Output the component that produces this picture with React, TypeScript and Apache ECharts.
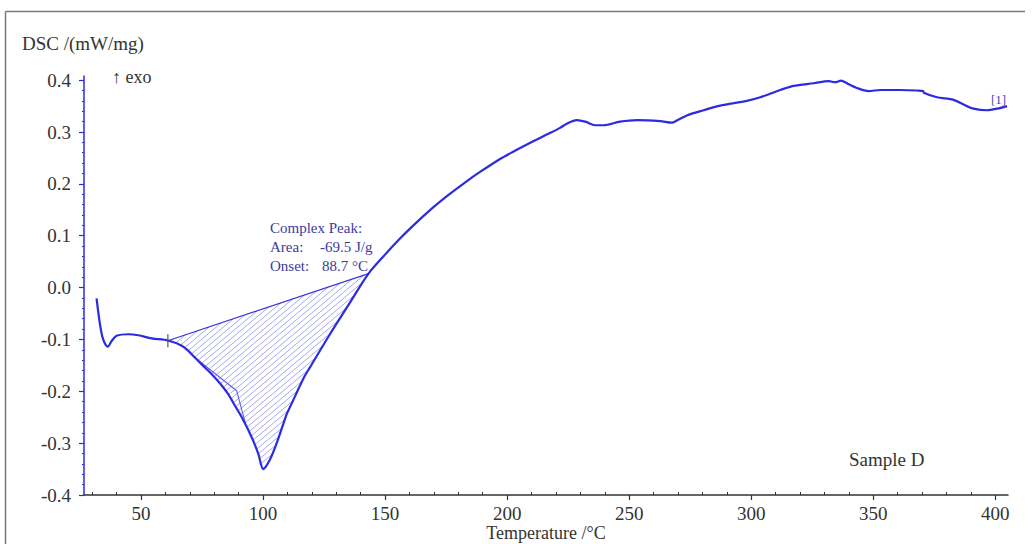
import React, { useEffect, useRef } from "react";
import * as echarts from "echarts";

// Temperature (°C) and DSC signal (mW/mg)
const curveT = [
  31.8, 33.2, 34.5, 36.4, 38.0, 40.0, 44.8, 48.9, 54.4, 61.0, 66.7, 69.4, 72.1, 75.5, 79.0, 82.4, 85.8, 88.5,
  91.3, 95.4, 98.1, 100.1, 102.9, 105.6, 109.7, 111.0, 116.8, 119.2, 127.4, 135.6, 143.2, 149.3, 155.8,
  161.6, 169.8, 175.2, 183.4, 188.9, 197.1, 202.5, 210.7, 216.2, 221.7, 224.4, 228.5, 232.0, 236.1, 239.5,
  246.3, 253.2, 262.7, 267.5, 269.5, 273.6, 280.5, 287.3, 298.2, 303.7, 311.9, 317.3, 325.6, 331.8, 334.4,
  336.8, 339.2, 343.3, 348.1, 352.9, 361.1, 367.9, 370.4, 370.9, 376.1, 382.9, 387.0, 391.1, 396.6, 400.7, 404.8,
];
const curveV = [
  -0.021, -0.071, -0.1, -0.114, -0.103, -0.093, -0.09, -0.092, -0.098, -0.102, -0.112, -0.122, -0.135, -0.151,
  -0.167, -0.185, -0.206, -0.228, -0.25, -0.289, -0.321, -0.35, -0.331, -0.3, -0.244, -0.231, -0.173, -0.154,
  -0.09, -0.029, 0.027, 0.06, 0.093, 0.12, 0.155, 0.176, 0.205, 0.223, 0.248, 0.262, 0.282, 0.295, 0.308,
  0.316, 0.323, 0.32, 0.313, 0.313, 0.32, 0.323, 0.321, 0.318, 0.322, 0.332, 0.342, 0.351, 0.36, 0.367, 0.381,
  0.389, 0.394, 0.398, 0.396, 0.399, 0.394, 0.385, 0.379, 0.381, 0.381, 0.38, 0.379, 0.375, 0.367, 0.362,
  0.353, 0.345, 0.342, 0.345, 0.35,
];

// integration baseline of the complex peak
const baselineT = [61.0, 143.2];
const baselineV = [-0.1025, 0.027];
// inner split line of the complex peak
const splitT = [71.5, 89.2, 92.8];
const splitV = [-0.133, -0.199, -0.262];

const xMajorTicks = [50, 100, 150, 200, 250, 300, 350, 400];
const xMinorTicks = [30, 40, 60, 70, 80, 90, 110, 120, 130, 140, 160, 170, 180, 190, 210, 220, 230, 240, 260, 270, 280, 290, 310, 320, 330, 340, 360, 370, 380, 390];
const yMajorTicks = [-0.4, -0.3, -0.2, -0.1, 0, 0.1, 0.2, 0.3, 0.4];
const yMinorTicks = [
  -0.38, -0.36, -0.34, -0.32, -0.28, -0.26, -0.24, -0.22, -0.18, -0.16, -0.14, -0.12, -0.08, -0.06, -0.04, -0.02,
  0.02, 0.04, 0.06, 0.08, 0.12, 0.14, 0.16, 0.18, 0.22, 0.24, 0.26, 0.28, 0.32, 0.34, 0.36, 0.38,
];

const X_MIN = 26.65;
const X_MAX = 405.2;
const Y_MIN = -0.4;
const Y_MAX = 0.408;

const BLUE = "#2b2be0";
const SERIF = "'Liberation Serif', 'Times New Roman', serif";

export default function App() {
  const ref = useRef<HTMLDivElement>(null);

  useEffect(() => {
    if (!ref.current) return;
    const chart = echarts.init(ref.current, null, { renderer: "svg" });

    const curve = curveT.map((t, i) => [t, curveV[i]]);
    const baseline = baselineT.map((t, i) => [t, baselineV[i]]);
    const split = splitT.map((t, i) => [t, splitV[i]]);

    // hatched polygon: curve between the baseline ends, closed by the baseline
    const polygon: number[][] = [];
    polygon.push([baselineT[0], baselineV[0]]);
    curveT.forEach((t, i) => {
      if (t > baselineT[0] && t < baselineT[1]) polygon.push([t, curveV[i]]);
    });
    polygon.push([baselineT[1], baselineV[1]]);

    const renderHatch = (_params: any, api: any) => {
      const pts = polygon.map((p) => api.coord(p));
      const m = Math.tan((40 * Math.PI) / 180);
      const cs = pts.map((p: number[]) => p[1] + m * p[0]);
      const cmin = Math.min(...cs);
      const cmax = Math.max(...cs);
      const step = 6;
      const children: any[] = [];
      for (let c = cmin + step / 2; c < cmax; c += step) {
        const hits: number[][] = [];
        for (let i = 0; i < pts.length; i++) {
          const a = pts[i];
          const b = pts[(i + 1) % pts.length];
          const fa = a[1] + m * a[0] - c;
          const fb = b[1] + m * b[0] - c;
          if ((fa <= 0 && fb > 0) || (fa > 0 && fb <= 0)) {
            const k = fa / (fa - fb);
            hits.push([a[0] + k * (b[0] - a[0]), a[1] + k * (b[1] - a[1])]);
          }
        }
        hits.sort((p, q) => p[0] - q[0]);
        for (let j = 0; j + 1 < hits.length; j += 2) {
          children.push({
            type: "line",
            shape: { x1: hits[j][0], y1: hits[j][1], x2: hits[j + 1][0], y2: hits[j + 1][1] },
            style: { stroke: "rgba(95,95,225,0.55)", lineWidth: 1 },
          });
        }
      }
      return { type: "group", children };
    };

    const labelFont = { fontFamily: SERIF, fontSize: 19, color: "#333" };
    const annot = "#3b3ba0";

    chart.setOption({
      animation: false,
      backgroundColor: "#fff",
      grid: { left: 84, right: 26, top: 76, bottom: 49, containLabel: false, outerBoundsMode: "none" },
      xAxis: [
        {
          type: "value",
          min: X_MIN,
          max: X_MAX,
          position: "bottom",
          axisLine: { show: true, onZero: false, lineStyle: { color: "#333", width: 1.5 } },
          axisTick: { show: true, customValues: xMajorTicks, length: 5, lineStyle: { color: "#333", width: 1.2 } },
          axisLabel: { ...labelFont, customValues: xMajorTicks, margin: 9 },
          splitLine: { show: false },
        },
        {
          type: "value",
          min: X_MIN,
          max: X_MAX,
          position: "bottom",
          offset: 0,
          axisLine: { show: false, onZero: false },
          axisTick: { show: true, customValues: xMinorTicks, inside: true, length: 3, lineStyle: { color: "#333", width: 1 } },
          axisLabel: { show: false },
          splitLine: { show: false },
        },
      ],
      yAxis: [
        {
          type: "value",
          min: Y_MIN,
          max: Y_MAX,
          position: "left",
          axisLine: { show: true, onZero: false, lineStyle: { color: BLUE, width: 1.5 } },
          axisTick: { show: true, customValues: yMajorTicks, length: 5, lineStyle: { color: BLUE, width: 1.2 } },
          axisLabel: {
            ...labelFont,
            customValues: yMajorTicks,
            margin: 13,
            formatter: (v: number) => v.toFixed(1),
          },
          splitLine: { show: false },
        },
        {
          type: "value",
          min: Y_MIN,
          max: Y_MAX,
          position: "left",
          offset: 0,
          axisLine: { show: false, onZero: false },
          axisTick: { show: true, customValues: yMinorTicks, length: 2, lineStyle: { color: BLUE, width: 1 } },
          axisLabel: { show: false },
          splitLine: { show: false },
        },
      ],
      series: [
        {
          type: "custom",
          coordinateSystem: "cartesian2d",
          renderItem: renderHatch,
          data: [[baselineT[0], baselineV[0]]],
          silent: true,
          z: 1,
        },
        {
          type: "line",
          data: split,
          showSymbol: false,
          symbol: "none",
          lineStyle: { color: "#6262e6", width: 1.1 },
          z: 2,
        },
        {
          type: "line",
          data: baseline,
          showSymbol: false,
          symbol: "none",
          lineStyle: { color: "#3535dc", width: 1.2 },
          z: 2,
        },
        {
          type: "line",
          data: curve,
          showSymbol: false,
          symbol: "none",
          smooth: 0.3,
          lineStyle: { color: BLUE, width: 2.2 },
          z: 3,
        },
        {
          type: "scatter",
          data: [[baselineT[0], baselineV[0]]],
          symbol: "rect",
          symbolSize: [1.5, 13],
          itemStyle: { color: "#555" },
          z: 4,
          silent: true,
        },
      ],
      graphic: [
        { type: "line", shape: { x1: 5.5, y1: 11.5, x2: 1025, y2: 11.5 }, style: { stroke: "#777", lineWidth: 1.5 } },
        { type: "line", shape: { x1: 5.5, y1: 11.5, x2: 5.5, y2: 544 }, style: { stroke: "#777", lineWidth: 1.5 } },
        { type: "text", x: 22, y: 43, style: { text: "DSC /(mW/mg)", fontFamily: SERIF, fontSize: 19, fill: "#333", verticalAlign: "middle" } },
        { type: "text", x: 112, y: 77, style: { text: "↑ exo", fontFamily: SERIF, fontSize: 18, fill: "#333", verticalAlign: "middle" } },
        { type: "text", x: 270, y: 228, style: { text: "Complex Peak:", fontFamily: SERIF, fontSize: 15, fill: annot, verticalAlign: "middle" } },
        { type: "text", x: 270, y: 247, style: { text: "Area:", fontFamily: SERIF, fontSize: 15, fill: annot, verticalAlign: "middle" } },
        { type: "text", x: 320, y: 247, style: { text: "-69.5 J/g", fontFamily: SERIF, fontSize: 15, fill: annot, verticalAlign: "middle" } },
        { type: "text", x: 270, y: 266, style: { text: "Onset:", fontFamily: SERIF, fontSize: 15, fill: annot, verticalAlign: "middle" } },
        { type: "text", x: 322, y: 266, style: { text: "88.7 °C", fontFamily: SERIF, fontSize: 15, fill: annot, verticalAlign: "middle" } },
        { type: "text", x: 849, y: 459, style: { text: "Sample D", fontFamily: SERIF, fontSize: 19, fill: "#333", verticalAlign: "middle" } },
        { type: "text", x: 991, y: 99, style: { text: "[1]", fontFamily: SERIF, fontSize: 13, fill: "#4a4ac0", verticalAlign: "middle" } },
        { type: "text", x: 546, y: 533, style: { text: "Temperature /°C", fontFamily: SERIF, fontSize: 18, fill: "#333", align: "center", verticalAlign: "middle" } },
      ],
    });

    return () => chart.dispose();
  }, []);

  return (
    <div
      ref={ref}
      style={{ position: "fixed", left: 0, top: 0, width: 1034, height: 544, background: "#fff" }}
    />
  );
}
